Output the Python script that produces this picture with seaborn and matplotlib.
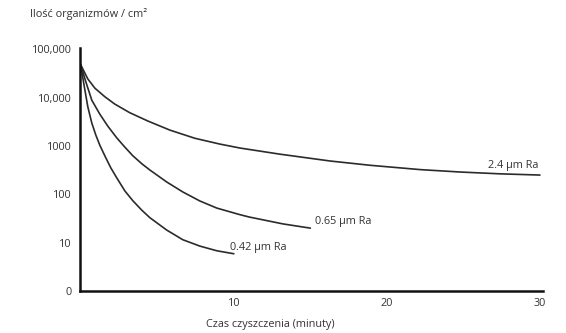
import numpy as np
import pandas as pd
import matplotlib
matplotlib.use("Agg")
import matplotlib.pyplot as plt
import seaborn as sns

# values (organisms per cm2; the "0" tick stands for 1)
t_24 = [0, 0.46, 0.92, 1.57, 2.22, 3.2, 4.38, 5.82, 7.45, 9.08, 10.4, 13.0, 16.3, 18.9, 22.2, 24.8, 27.4, 30]
n_24 = [47900, 24500, 15800, 10500, 7400, 4900, 3300, 2140, 1450, 1100, 910, 680, 490, 400, 325, 290, 266, 251]

t_065 = [0, 0.33, 0.72, 1.24, 1.76, 2.35, 2.88, 3.4, 3.99, 4.51, 5.62, 6.67, 7.78, 8.89, 10.4, 11.0, 13.2, 15]
n_065 = [47900, 21400, 8900, 4600, 2600, 1480, 950, 630, 430, 320, 180, 112, 73, 52, 38, 34, 24.5, 20]

t_042 = [0, 0.2, 0.46, 0.72, 0.98, 1.24, 1.57, 1.96, 2.35, 2.88, 3.4, 3.99, 4.51, 5.62, 6.67, 7.78, 8.89, 10]
n_042 = [47900, 19400, 6500, 3000, 1700, 1050, 630, 355, 220, 118, 74, 47, 33, 18.2, 11.5, 8.5, 6.8, 5.9]

curve_names = ["2.4 µm Ra", "0.65 µm Ra", "0.42 µm Ra"]
label_pos = [(26.6, 390), (15.3, 27), (9.74, 8.1)]

y_ticks = [1, 10, 100, 1000, 10000, 100000]
y_labels = ["0", "10", "100", "1000", "10,000", "100,000"]
x_ticks = [10, 20, 30]

sns.set_style("white")
plt.rcParams['font.family'] = ['Open Sans', 'DejaVu Sans']

df = pd.concat([
    pd.DataFrame({'t': t_24, 'n': n_24, 'c': curve_names[0]}),
    pd.DataFrame({'t': t_065, 'n': n_065, 'c': curve_names[1]}),
    pd.DataFrame({'t': t_042, 'n': n_042, 'c': curve_names[2]}),
])

fig = plt.figure(figsize=(5.66, 3.33), dpi=100)
ax = fig.add_axes([80/566, 1-291/333, 463/566, 243/333])

for name in curve_names:
    sub = df[df.c == name]
    sns.lineplot(data=sub, x='t', y='n', color='#2b2b2b', linewidth=1.2, ax=ax, sort=False)

txt = '#333333'
ax.set_yscale('log')
ax.set_ylim(1, 1.07e5)
ax.set_xlim(-0.05, 30.2)
ax.set_yticks(y_ticks)
ax.set_yticklabels(y_labels)
ax.minorticks_off()
ax.set_xticks(x_ticks)
ax.set_xticklabels([str(v) for v in x_ticks])
ax.tick_params(axis='both', length=0, labelsize=7.8, labelcolor=txt)
ax.tick_params(axis='y', pad=6)
ax.tick_params(axis='x', pad=5)

for side in ['top', 'right']:
    ax.spines[side].set_visible(False)
for side in ['left', 'bottom']:
    ax.spines[side].set_linewidth(1.8)
    ax.spines[side].set_color('#111111')

for name, (px, py) in zip(curve_names, label_pos):
    ax.text(px, py, name, fontsize=7.8, color=txt, va='center', ha='left')

ax.set_xlabel("Czas czyszczenia (minuty)", fontsize=7.8, color=txt, labelpad=8)
ax.xaxis.set_label_coords(0.41, -0.115)
ax.set_ylabel("")
fig.text(30/566, 1-14/333, "Ilość organizmów / cm²", fontsize=7.8, color=txt, va='center', ha='left')

fig.savefig("out.png", dpi=100, facecolor='white')
